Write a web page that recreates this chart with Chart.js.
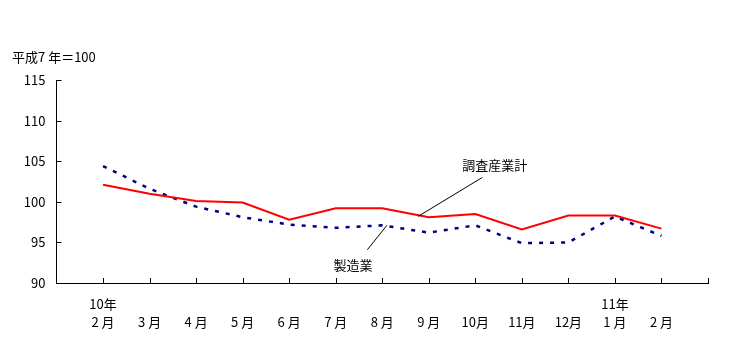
<!DOCTYPE html>
<html>
<head>
<meta charset="utf-8">
<script src="https://cdn.jsdelivr.net/npm/chart.js@4.4.0/dist/chart.umd.min.js"></script>
<style>
  body { margin: 0; background: #fff; }
</style>
</head>
<body>
<canvas id="chart" width="753" height="361"></canvas>
<script>
// month labels along the bottom, year shown above the first month of each year
const months = ['2 月', '3 月', '4 月', '5 月', '6 月', '7 月', '8 月', '9 月', '10月', '11月', '12月', '1 月', '2 月'];
const years = ['10年', '', '', '', '', '', '', '', '', '', '', '11年', ''];

// index, 平成7年=100
const allIndustries = [102.1, 101.0, 100.1, 99.9, 97.8, 99.2, 99.2, 98.1, 98.5, 96.6, 98.3, 98.3, 96.7];
const manufacturing = [104.4, 101.6, 99.4, 98.1, 97.2, 96.8, 97.1, 96.2, 97.1, 94.9, 95.0, 98.2, 95.8];

const yTicks = [90, 95, 100, 105, 110, 115];

const FONT = '"Noto Sans CJK JP", sans-serif';

function toPoints(arr) {
  return arr.map((v, i) => ({ x: i + 1, y: v }));
}

// inner tick marks, unit note and the two callouts
const decor = {
  id: 'decor',
  afterDraw(chart) {
    const { ctx, scales: { x, y } } = chart;
    ctx.save();
    ctx.strokeStyle = '#000';
    ctx.lineWidth = 1;
    yTicks.forEach(v => {
      const py = Math.round(y.getPixelForValue(v)) + 0.5;
      ctx.beginPath();
      ctx.moveTo(x.left, py);
      ctx.lineTo(x.left + 5, py);
      ctx.stroke();
    });
    for (let i = 1; i <= months.length + 1; i++) {
      const px = Math.round(x.getPixelForValue(i)) + 0.5;
      ctx.beginPath();
      ctx.moveTo(px, y.bottom);
      ctx.lineTo(px, y.bottom - 5);
      ctx.stroke();
    }

    ctx.fillStyle = '#000';
    ctx.font = '13px ' + FONT;
    ctx.textBaseline = 'middle';
    ctx.textAlign = 'left';
    ctx.fillText('平成7 年＝100', 12, 57);

    // callout lines
    const line = (x1, y1, x2, y2) => {
      ctx.beginPath();
      ctx.moveTo(x.getPixelForValue(x1), y.getPixelForValue(y1));
      ctx.lineTo(x.getPixelForValue(x2), y.getPixelForValue(y2));
      ctx.stroke();
    };
    line(7.77, 98.2, 9.15, 103.0);
    line(6.68, 94.1, 7.1, 97.1);
    ctx.fillText('調査産業計', x.getPixelForValue(8.72), y.getPixelForValue(104.5));
    ctx.fillText('製造業', x.getPixelForValue(5.95), y.getPixelForValue(92.25));
    ctx.restore();
  }
};

new Chart(document.getElementById('chart'), {
  type: 'line',
  data: {
    datasets: [
      {
        label: '調査産業計',
        data: toPoints(allIndustries),
        borderColor: '#ff0000',
        borderWidth: 2,
        pointRadius: 0,
        tension: 0
      },
      {
        label: '製造業',
        data: toPoints(manufacturing),
        borderColor: '#000080',
        borderWidth: 2.5,
        borderDash: [4, 7],
        pointRadius: 0,
        tension: 0
      }
    ]
  },
  options: {
    responsive: false,
    animation: false,
    devicePixelRatio: 1,
    layout: { padding: { top: 80, right: 45, left: 0, bottom: 0 } },
    plugins: {
      legend: { display: false },
      tooltip: { enabled: false }
    },
    scales: {
      x: {
        type: 'linear',
        min: 0,
        max: months.length + 1,
        afterFit(scale) { scale.height = 78; },
        afterBuildTicks(scale) {
          scale.ticks = [];
          for (let i = 0; i <= months.length + 1; i++) scale.ticks.push({ value: i });
        },
        grid: { display: false, drawTicks: false },
        border: { display: true, color: '#000', width: 1 },
        ticks: {
          autoSkip: false,
          maxRotation: 0,
          padding: 12,
          color: '#000',
          font: { family: FONT, size: 13, lineHeight: 1.4 },
          callback(v) {
            const i = v - 1;
            if (i < 0 || i >= months.length) return '';
            return [years[i], months[i]];
          }
        }
      },
      y: {
        min: 90,
        max: 115,
        afterFit(scale) { scale.width = 56.5; },
        afterBuildTicks(scale) {
          scale.ticks = yTicks.map(v => ({ value: v }));
        },
        grid: { display: false, drawTicks: false },
        border: { display: true, color: '#000', width: 1 },
        ticks: {
          padding: 11,
          color: '#000',
          font: { family: FONT, size: 13 }
        }
      }
    }
  },
  plugins: [decor]
});
</script>
</body>
</html>
